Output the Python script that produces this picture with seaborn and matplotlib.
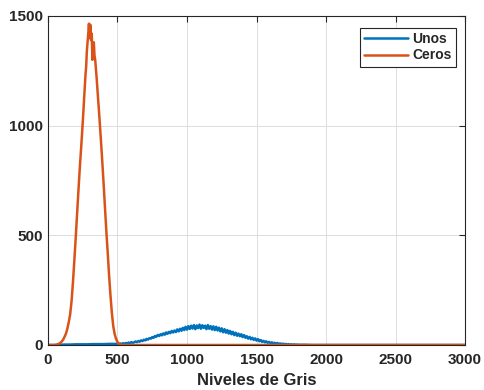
import numpy as np
import pandas as pd
import seaborn as sns
import matplotlib.pyplot as plt

# gray levels / counts
unos_x = ([0, 40, 80, 120, 160, 200, 240, 280, 320, 360, 400, 440, 480]
          + list(range(500, 1801, 10)) + [1850, 1900, 3000])
unos_y = [0, 0, 1, 2, 2, 3, 3, 3, 4, 4, 4, 5, 5,
          5, 3, 7, 4, 8, 6, 9, 7, 11, 8,
          13, 10, 12, 16, 13, 18, 15, 21, 18, 24,
          21, 28, 25, 31, 29, 36, 33, 41, 38, 46,
          41, 49, 44, 53, 47, 57, 51, 60, 54, 64,
          57, 66, 59, 71, 62, 74, 65, 78, 68, 83,
          70, 86, 73, 88, 75, 91, 72, 89, 77, 93,
          74, 90, 78, 88, 72, 91, 74, 86, 70, 85,
          68, 83, 66, 79, 62, 76, 58, 72, 56, 68,
          52, 64, 49, 60, 45, 56, 42, 52, 40, 49,
          36, 45, 33, 40, 29, 37, 26, 33, 23, 30,
          20, 27, 17, 23, 14, 19, 12, 17, 10, 14,
          9, 12, 7, 10, 6, 9, 5, 7, 4, 6,
          3, 5, 2, 4, 2, 3, 1, 3, 1, 2,
          1, 1, 0, 0]

ceros_x = [0, 50, 60, 70, 80, 90, 100, 110, 120, 130, 140, 150, 160, 170, 180,
           190, 200, 210, 220, 230, 240, 250, 260, 270, 275, 280, 285, 290, 295,
           300, 305, 310, 315, 320, 325, 330, 335, 340, 350, 360, 370, 380, 390,
           400, 410, 420, 430, 440, 450, 460, 470, 480, 490, 500, 510, 520, 530,
           540, 3000]
ceros_y = [0, 0, 1, 3, 6, 10, 16, 25, 38, 52, 75, 105, 140, 200, 285,
           385, 490, 600, 710, 815, 910, 1010, 1120, 1230, 1270, 1340, 1380, 1420, 1465,
           1400, 1460, 1390, 1420, 1300, 1350, 1380, 1320, 1300, 1221, 1130, 1040, 945, 845,
           740, 630, 520, 420, 315, 225, 145, 85, 50, 28, 14, 6, 2, 1,
           0, 0]

df = pd.concat([
    pd.DataFrame({"x": unos_x, "y": unos_y, "serie": "Unos"}),
    pd.DataFrame({"x": ceros_x, "y": ceros_y, "serie": "Ceros"}),
])

sns.set_style("white")
plt.rcParams['font.family'] = ['Liberation Sans', 'DejaVu Sans']

fig = plt.figure(figsize=(4.84, 3.90), dpi=100)
ax = fig.add_axes([0.099, 0.1154, 0.862, 0.8436])

sns.lineplot(data=df, x="x", y="y", hue="serie", palette=["#0072BD", "#D95319"],
             estimator=None, sort=False, linewidth=1.8, ax=ax)

ax.set_xlim(0, 3000)
ax.set_ylim(0, 1500)
ax.set_xticks(np.arange(0, 3001, 500))
ax.set_yticks([0, 500, 1000, 1500])
ax.grid(True, color="#dddddd", linewidth=0.7)
ax.tick_params(direction="in", length=4, width=0.8, top=True, right=True,
               labelsize=11, colors="#262626", labelcolor="#262626")
ax.tick_params(axis="x", pad=6)
for lab in ax.get_xticklabels() + ax.get_yticklabels():
    lab.set_fontweight("bold")
for sp in ax.spines.values():
    sp.set_color("#262626")
    sp.set_linewidth(0.8)

ax.set_xlabel("Niveles de Gris", fontsize=12, fontweight="bold", color="#262626", labelpad=4)
ax.set_ylabel("")

leg = ax.legend(loc="upper right", bbox_to_anchor=(0.978, 0.965), borderaxespad=0,
                fancybox=False, edgecolor="#262626", framealpha=1,
                prop={"weight": "bold", "size": 10}, handlelength=3.2,
                handletextpad=0.3, borderpad=0.3, labelspacing=0.2)
leg.get_frame().set_linewidth(0.8)

fig.savefig("out.png", dpi=100)
